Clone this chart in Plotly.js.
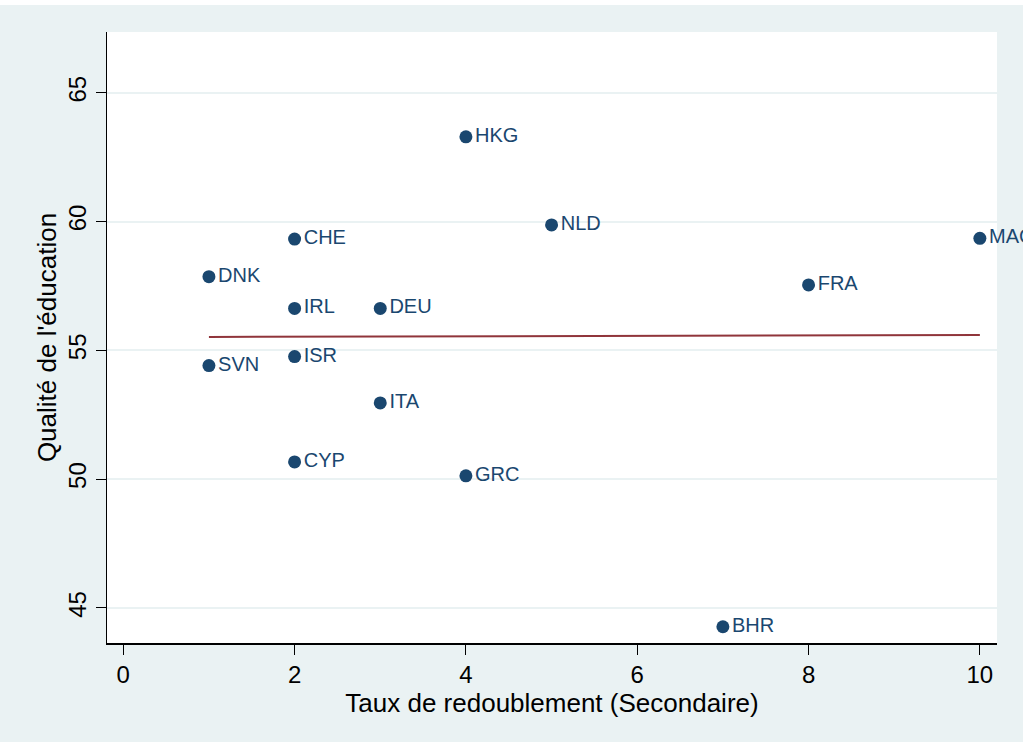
<!DOCTYPE html>
<html>
<head>
<meta charset="utf-8">
<script src="https://cdn.plot.ly/plotly-3.0.1.min.js"></script>
<style>
  html, body { margin: 0; padding: 0; background: #ffffff; }
  #chart { position: absolute; left: 0px; top: 5px; width: 1023px; height: 737px; }
</style>
</head>
<body>
<div id="chart"></div>
<script>
// Data
const countries = ["HKG", "NLD", "CHE", "MAC", "DNK", "FRA", "IRL", "DEU", "ISR", "SVN", "ITA", "CYP", "GRC", "BHR"];
const repetitionRate = [4, 5, 2, 10, 1, 8, 2, 3, 2, 1, 3, 2, 4, 7];
const educationQuality = [63.29, 59.87, 59.32, 59.35, 57.86, 57.54, 56.63, 56.63, 54.76, 54.41, 52.96, 50.67, 50.13, 44.27];

// Fitted line endpoints
const fitX = [1, 10];
const fitY = [55.52, 55.60];

const xTicks = [0, 2, 4, 6, 8, 10];
const yTicks = [45, 50, 55, 60, 65];

const FONT = "Liberation Sans, Arial, Helvetica, sans-serif";
const NAVY = "#1A476F";
const MAROON = "#90353B";
const BG = "#EAF2F3";

const traces = [
  {
    type: "scatter",
    mode: "lines",
    x: fitX,
    y: fitY,
    line: { color: MAROON, width: 2 },
    hoverinfo: "skip",
    showlegend: false
  },
  {
    type: "scatter",
    mode: "markers+text",
    x: repetitionRate,
    y: educationQuality,
    text: countries,
    textposition: "middle right",
    textfont: { family: FONT, size: 20, color: NAVY },
    marker: { color: NAVY, size: 13 },
    cliponaxis: false,
    hoverinfo: "skip",
    showlegend: false
  }
];

const layout = {
  width: 1023,
  height: 737,
  paper_bgcolor: BG,
  plot_bgcolor: "#ffffff",
  margin: { l: 107, r: 26, t: 27, b: 99, pad: 0 },
  font: { family: FONT, color: "#000000" },
  showlegend: false,
  xaxis: {
    range: [-0.19, 10.2],
    tickvals: xTicks,
    ticktext: xTicks.map(String),
    ticks: "outside",
    ticklen: 10,
    tickwidth: 1,
    tickcolor: "#000000",
    tickfont: { family: FONT, size: 24, color: "#000000" },
    showline: true,
    linecolor: "#000000",
    linewidth: 1.5,
    showgrid: false,
    zeroline: false,
    automargin: false,
    title: { text: "Taux de redoublement (Secondaire)", font: { family: FONT, size: 26, color: "#000000" }, standoff: 0 }
  },
  yaxis: {
    range: [43.64, 67.36],
    tickvals: yTicks,
    ticktext: yTicks.map(String),
    tickangle: -90,
    ticks: "outside",
    ticklen: 10,
    tickwidth: 1,
    tickcolor: "#000000",
    tickfont: { family: FONT, size: 24, color: "#000000" },
    showline: true,
    linecolor: "#000000",
    linewidth: 1.5,
    showgrid: true,
    gridcolor: BG,
    gridwidth: 2,
    zeroline: false,
    automargin: false,
    title: { text: "Qualité de l'éducation", font: { family: FONT, size: 26, color: "#000000" }, standoff: 0 }
  }
};

Plotly.newPlot("chart", traces, layout, { staticPlot: true, displayModeBar: false });
</script>
</body>
</html>
